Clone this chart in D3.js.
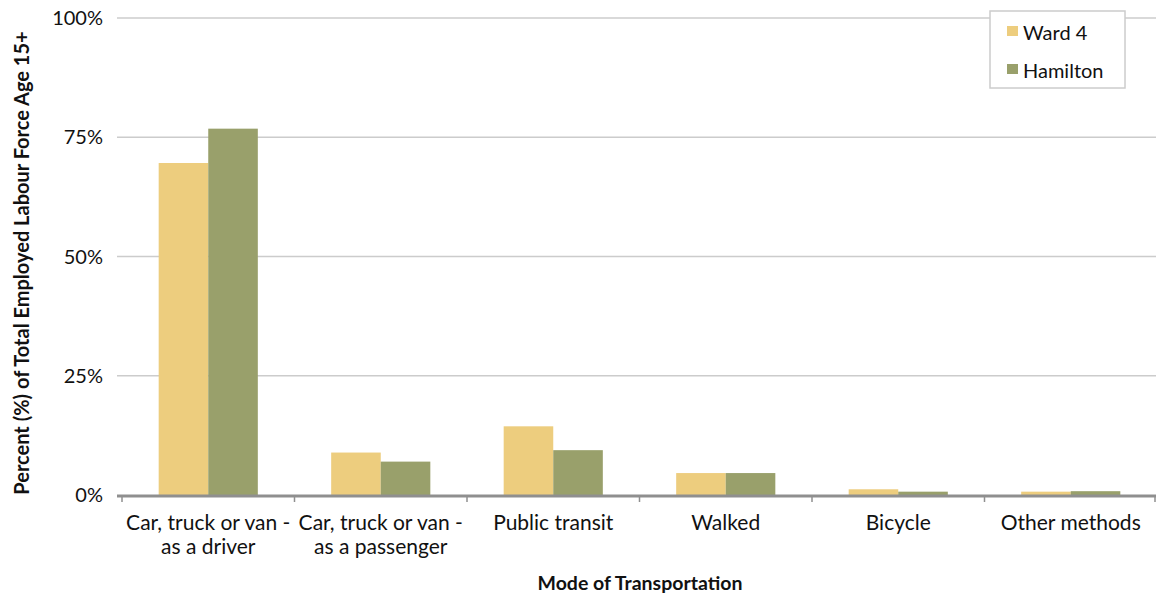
<!DOCTYPE html>
<html>
<head>
<meta charset="utf-8">
<script src="https://cdn.jsdelivr.net/npm/d3@7"></script>
<style>
  body { margin: 0; background: #fff; }
  text { font-family: Lato, "Open Sans", sans-serif; fill: #111; }
</style>
</head>
<body>
<script>
var categories = [["Car, truck or van -", "as a driver"], ["Car, truck or van -", "as a passenger"],
                  ["Public transit"], ["Walked"], ["Bicycle"], ["Other methods"]];
var seriesNames = ["Ward 4", "Hamilton"];
var ward4 = [69.6, 8.9, 14.4, 4.6, 1.2, 0.7];
var hamilton = [76.8, 7.0, 9.4, 4.6, 0.7, 0.8];
var yTicks = [0, 25, 50, 75, 100];
var colors = ["#EDCD7E", "#99A06B"];

var screen = {width: 1156, height: 596};
var margin = {left: 122, right: 0, top: 18, bottom: 100};

var svg = d3.select("body")
            .append("svg")
            .attr("width", screen.width)
            .attr("height", screen.height);

var x = d3.scaleBand()
          .domain(d3.range(categories.length))
          .range([margin.left, 1157])
          .paddingInner(0)
          .paddingOuter(0);

var xSub = d3.scaleBand()
             .domain([0, 1])
             .range([0, x.bandwidth()])
             .paddingInner(0)
             .paddingOuter(0.74);

var y = d3.scaleLinear()
          .domain([0, 100])
          .range([495, margin.top]);

// gridlines
svg.append("g")
   .selectAll("line")
   .data(yTicks.filter(function(d) { return d > 0; }))
   .enter()
   .append("line")
   .attr("x1", 117)
   .attr("x2", screen.width)
   .attr("y1", function(d) { return y(d); })
   .attr("y2", function(d) { return y(d); })
   .attr("stroke", "#cccccc")
   .attr("stroke-width", 1.5);

// y tick labels
svg.append("g")
   .selectAll("text")
   .data(yTicks)
   .enter()
   .append("text")
   .attr("x", 103)
   .attr("y", function(d) { return y(d) + 7; })
   .attr("text-anchor", "end")
   .style("font-size", "20px")
   .text(function(d) { return d + "%"; });

// bars
var data = [ward4, hamilton];
var groups = svg.append("g")
                .selectAll("g")
                .data(data)
                .enter()
                .append("g")
                .attr("fill", function(d, i) { return colors[i]; });

groups.each(function(series, s) {
  d3.select(this)
    .selectAll("rect")
    .data(series)
    .enter()
    .append("rect")
    .attr("x", function(d, i) { return x(i) + xSub(s); })
    .attr("width", xSub.bandwidth())
    .attr("y", function(d) { return y(d); })
    .attr("height", function(d) { return y(0) - y(d); });
});

// x axis line and ticks
svg.append("line")
   .attr("x1", 117)
   .attr("x2", screen.width)
   .attr("y1", y(0) + 1)
   .attr("y2", y(0) + 1)
   .attr("stroke", "#8f8f8f")
   .attr("stroke-width", 3);

svg.append("g")
   .selectAll("line")
   .data(d3.range(categories.length + 1))
   .enter()
   .append("line")
   .attr("x1", function(d) { return d < categories.length ? x(d) : 1155; })
   .attr("x2", function(d) { return d < categories.length ? x(d) : 1155; })
   .attr("y1", y(0))
   .attr("y2", y(0) + 7)
   .attr("stroke", "#8f8f8f")
   .attr("stroke-width", 1.5);

// category labels
var catLabels = svg.append("g")
                   .selectAll("text")
                   .data(categories)
                   .enter()
                   .append("text")
                   .attr("text-anchor", "middle")
                   .style("font-size", "21px");

catLabels.selectAll("tspan")
         .data(function(d, i) { return d.map(function(t) { return {t: t, i: i}; }); })
         .enter()
         .append("tspan")
         .attr("x", function(d) { return x(d.i) + x.bandwidth() / 2; })
         .attr("y", function(d, j) { return 530 + j * 24; })
         .text(function(d) { return d.t; });

// axis titles
svg.append("text")
   .attr("x", 640)
   .attr("y", 590)
   .attr("text-anchor", "middle")
   .style("font-size", "19.5px")
   .style("font-weight", "bold")
   .text("Mode of Transportation");

svg.append("text")
   .attr("transform", "translate(29," + 263 + ") rotate(-90)")
   .attr("text-anchor", "middle")
   .style("font-size", "20px")
   .style("font-weight", "bold")
   .text("Percent (%) of Total Employed Labour Force Age 15+");

// legend
var legend = svg.append("g")
                .attr("transform", "translate(990,11)");

legend.append("rect")
      .attr("x", 0)
      .attr("y", 0)
      .attr("width", 135)
      .attr("height", 77)
      .attr("fill", "#fff")
      .attr("stroke", "#cccccc")
      .attr("stroke-width", 1.5);

var items = legend.selectAll("g")
                  .data(seriesNames)
                  .enter()
                  .append("g")
                  .attr("transform", function(d, i) { return "translate(17," + (15 + i * 38) + ")"; });

items.append("rect")
     .attr("width", 11)
     .attr("height", 10)
     .attr("fill", function(d, i) { return colors[i]; });

items.append("text")
     .attr("x", 16)
     .attr("y", 14)
     .style("font-size", "20px")
     .text(function(d) { return d; });
</script>
</body>
</html>
